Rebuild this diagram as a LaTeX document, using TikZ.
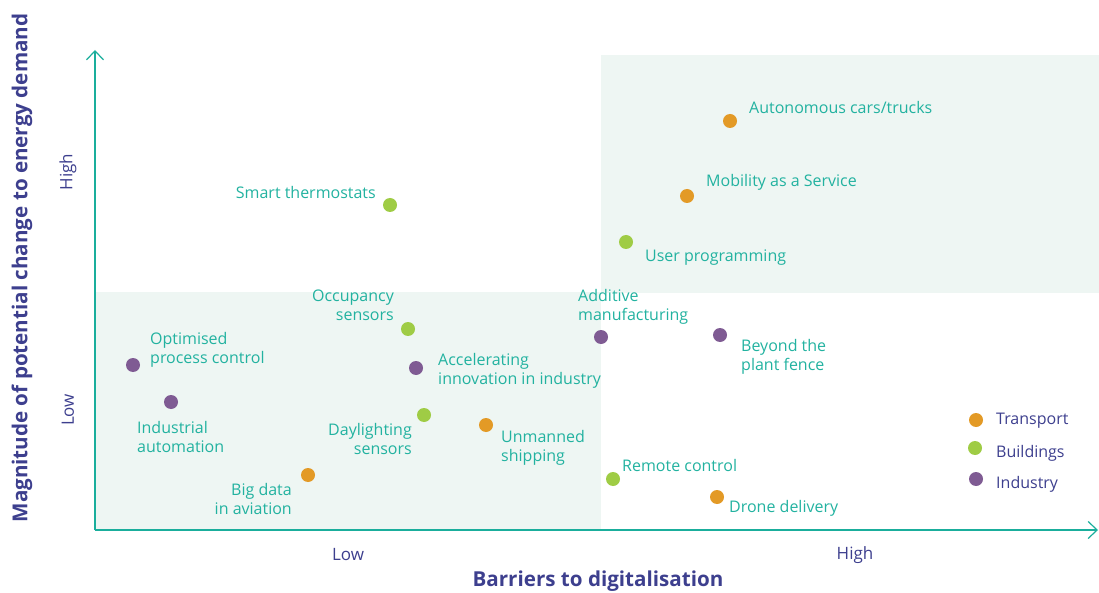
\documentclass[tikz,border=0pt]{standalone}
\usepackage{fontspec}
\setmainfont{Open Sans}
\usetikzlibrary{arrows.meta}
\definecolor{axteal}{HTML}{1AAE9C}
\definecolor{txt}{HTML}{22B2A0}
\definecolor{navy}{HTML}{3D3F8E}
\definecolor{bgshade}{HTML}{EEF6F3}
\definecolor{ctrans}{HTML}{E39A26}
\definecolor{cbuild}{HTML}{9FCC45}
\definecolor{cind}{HTML}{7F5B93}
\tikzset{
  dot/.style={circle,inner sep=0pt,minimum size=14pt,fill=#1},
  lab/.style={inner sep=0pt,text=txt,yshift=-1.5pt,font=\fontsize{16}{19}\selectfont},
  leg/.style={inner sep=0pt,text=navy,yshift=-1pt,font=\fontsize{16}{19}\selectfont},
  tick/.style={inner sep=0pt,text=navy,font=\fontsize{17}{19}\selectfont},
  axtitle/.style={inner sep=0pt,text=navy,font=\fontsize{20.6}{22}\selectfont\bfseries},
  axis/.style={draw=axteal,line width=1.2pt,-{Straight Barb[length=9pt,width=17pt,line width=1.2pt]}}
}
\begin{document}
\begin{tikzpicture}[x=1pt,y=-1pt]
\useasboundingbox (0,0) rectangle (1099,593);
\fill[bgshade] (96,292) rectangle (601,530);
\fill[bgshade] (601,55) rectangle (1099,293);
\coordinate (o) at (95,530);
\coordinate (ytip) at (95,50);
\coordinate (xtip) at (1098,530);
\draw[axis] (o) -- (ytip);
\draw[axis] (o) -- (xtip);
% axis labels
\node[axtitle,rotate=90] (ytitle) at (22,268) {Magnitude of potential change to energy demand};
\node[axtitle] (xtitle) at (598,581) {Barriers to digitalisation};
\node[tick,rotate=90] (yhigh) at (68,172) {High};
\node[tick,rotate=90] (ylow) at (68,410) {Low};
\node[tick] (xlow) at (348,555) {Low};
\node[tick] (xhigh) at (855,555) {High};
% dots
\node[dot=ctrans] (auto) at (730,121) {};
\node[lab,anchor=west] (autol) at (749,106) {Autonomous cars/trucks};
\node[dot=ctrans] (maas) at (687,196) {};
\node[lab,anchor=west] (maasl) at (706,181) {Mobility as a Service};
\node[dot=cbuild] (user) at (626,242) {};
\node[lab,anchor=west] (userl) at (645,256) {User programming};
\node[dot=cbuild] (smart) at (390,205) {};
\node[lab,anchor=east] (smartl) at (376,191) {Smart thermostats};
\node[dot=cbuild] (occ) at (408,329) {};
\node[lab,anchor=east,align=right] (occl) at (394,304) {Occupancy\\sensors};
\node[dot=cind] (add) at (601,337) {};
\node[lab,anchor=west,align=left] (addl) at (578,305) {Additive\\manufacturing};
\node[dot=cind] (beyond) at (720,335) {};
\node[lab,anchor=west,align=left] (beyondl) at (741,355) {Beyond the\\plant fence};
\node[dot=cind] (opt) at (133,365) {};
\node[lab,anchor=west,align=left] (optl) at (150,348) {Optimised\\process control};
\node[dot=cind] (acc) at (416,368) {};
\node[lab,anchor=west,align=left] (accl) at (438,369) {Accelerating\\innovation in industry};
\node[dot=cind] (indaut) at (171,402) {};
\node[lab,anchor=west,align=left] (indautl) at (137,435) {Industrial\\automation};
\node[dot=cbuild] (day) at (424,415) {};
\node[lab,anchor=east,align=right] (dayl) at (412,437) {Daylighting\\sensors};
\node[dot=ctrans] (ship) at (486,425) {};
\node[lab,anchor=west,align=left] (shipl) at (501,446) {Unmanned\\shipping};
\node[dot=cbuild] (remote) at (613,479) {};
\node[lab,anchor=west] (remotel) at (622,464) {Remote control};
\node[dot=ctrans] (drone) at (717,497) {};
\node[lab,anchor=west] (dronel) at (729,507) {Drone delivery};
\node[dot=ctrans] (big) at (308,475) {};
\node[lab,anchor=east,align=right] (bigl) at (292,497) {Big data\\in aviation};
% legend
\node[dot=ctrans] (lt) at (976,420) {};
\node[leg,anchor=west] (ltl) at (996,420) {Transport};
\node[dot=cbuild] (lb) at (975,448) {};
\node[leg,anchor=west] (lbl) at (996,452) {Buildings};
\node[dot=cind] (li) at (976,479) {};
\node[leg,anchor=west] (lil) at (996,483) {Industry};
\end{tikzpicture}
\end{document}
